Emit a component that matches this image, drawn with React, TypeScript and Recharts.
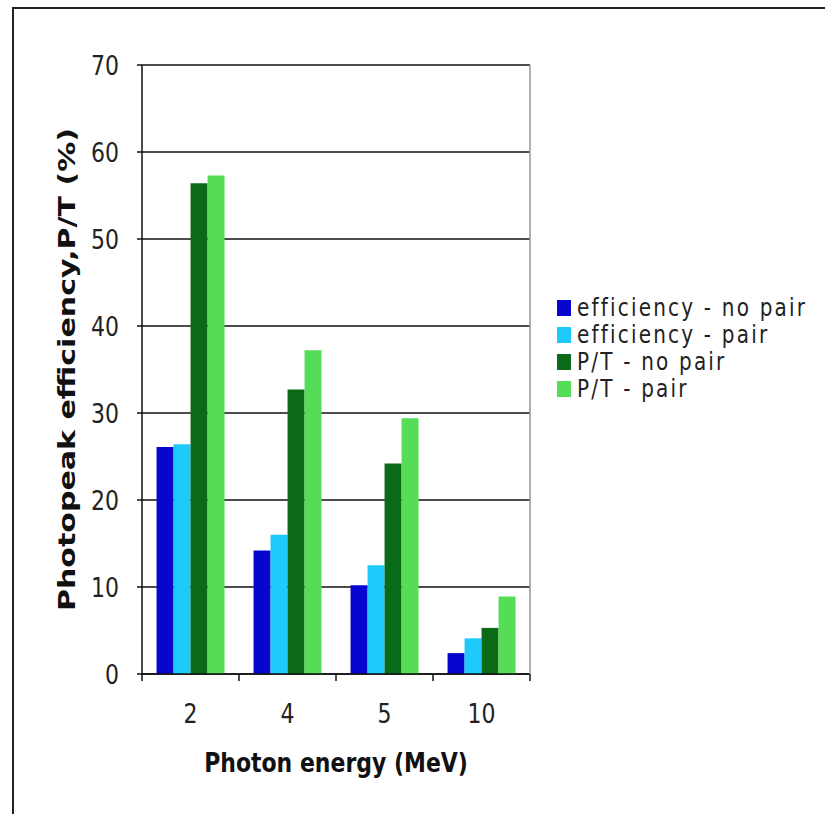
import React from 'react';
import { BarChart, Bar, XAxis, YAxis, CartesianGrid, Legend } from 'recharts';

// Photon energies (MeV) on the category axis
const energies = ['2', '4', '5', '10'];

// Values in %
const effNoPair = [26.1, 14.2, 10.2, 2.4];
const effPair = [26.4, 16.0, 12.5, 4.1];
const ptNoPair = [56.4, 32.7, 24.2, 5.3];
const ptPair = [57.3, 37.2, 29.4, 8.9];

const yTicks = [0, 10, 20, 30, 40, 50, 60, 70];

const series = [
  { key: 'effNoPair', name: 'efficiency - no pair', color: '#0606cf' },
  { key: 'effPair', name: 'efficiency - pair', color: '#1ec9fc' },
  { key: 'ptNoPair', name: 'P/T - no pair', color: '#0a6a17' },
  { key: 'ptPair', name: 'P/T - pair', color: '#55dd58' },
];

const data = energies.map((e, i) => ({
  energy: e,
  effNoPair: effNoPair[i],
  effPair: effPair[i],
  ptNoPair: ptNoPair[i],
  ptPair: ptPair[i],
}));

const FONT = '"DejaVu Sans", Verdana, sans-serif';
const STRETCH = 1.2;

const EmptyTick = () => <g />;

const YTick = ({ x, y, payload }: any) => (
  <g transform={`translate(${x - 16},${y}) scale(1,${STRETCH})`}>
    <text x={0} y={0} dy="0.36em" textAnchor="end" fontSize={22} fontFamily={FONT} fill="#222">
      {payload.value}
    </text>
  </g>
);

// category label plus the tick marks at the band edges (Excel style)
const XTick = ({ x, y, payload, index, visibleTicksCount }: any) => {
  const half = payload.offset || 0;
  const last = index === visibleTicksCount - 1;
  return (
    <g>
      <line x1={x - half} x2={x - half} y1={y} y2={y + 7} stroke="#111" strokeWidth={1.5} />
      {last && <line x1={x + half} x2={x + half} y1={y} y2={y + 7} stroke="#111" strokeWidth={1.5} />}
      <g transform={`translate(${x},${y + 49}) scale(1,${STRETCH})`}>
        <text x={0} y={0} textAnchor="middle" fontSize={22} fontFamily={FONT} fill="#222">
          {payload.value}
        </text>
      </g>
    </g>
  );
};

const YLabel = ({ viewBox }: any) => {
  const cy = viewBox.y + viewBox.height / 2;
  return (
    <text
      transform={`translate(75,${cy}) rotate(-90)`}
      textAnchor="middle"
      fontSize={23}
      fontWeight="bold"
      fontFamily={FONT}
      fill="#111"
      textLength={483}
      lengthAdjust="spacingAndGlyphs"
    >
      Photopeak efficiency,P/T (%)
    </text>
  );
};

const XLabel = ({ viewBox }: any) => {
  const cx = viewBox.x + viewBox.width / 2;
  return (
    <g transform={`translate(${cx},772) scale(1,${STRETCH})`}>
      <text x={0} y={0} textAnchor="middle" fontSize={22} fontWeight="bold" fontFamily={FONT} fill="#111">
        Photon energy (MeV)
      </text>
    </g>
  );
};

const LegendBox = () => (
  <div style={{ fontFamily: FONT, fontSize: 20, color: '#222', letterSpacing: 2.2 }}>
    {series.map((s) => (
      <div key={s.key} style={{ display: 'flex', alignItems: 'center', height: 27 }}>
        <span style={{ width: 14, height: 16, background: s.color, marginRight: 6 }} />
        <span style={{ display: 'inline-block', transform: `scaleY(${STRETCH})` }}>{s.name}</span>
      </div>
    ))}
  </div>
);

export default function App() {
  return (
    <div style={{ position: 'absolute', left: 0, top: 0, width: 825, height: 814, background: '#fff' }}>
      <div
        style={{
          position: 'absolute',
          left: 12,
          top: 7,
          width: 830,
          height: 830,
          borderTop: '2px solid #222',
          borderLeft: '2px solid #222',
        }}
      />
      <BarChart
        width={825}
        height={814}
        data={data}
        margin={{ top: 65, right: 294, bottom: 0, left: 0 }}
        barCategoryGap="15%"
        barGap={0}
      >
        <CartesianGrid vertical={false} stroke="#111" strokeWidth={1.5} />
        <XAxis
          dataKey="energy"
          height={140}
          axisLine={{ stroke: '#111', strokeWidth: 1.5 }}
          tickLine={false}
          tickSize={0}
          tickMargin={0}
          tick={<XTick />}
          label={{ content: XLabel }}
        />
        <YAxis
          domain={[0, 70]}
          ticks={yTicks}
          width={142}
          tickSize={5}
          axisLine={{ stroke: '#111', strokeWidth: 1.5 }}
          tickLine={{ stroke: '#111', strokeWidth: 1.5 }}
          tick={<YTick />}
          label={{ content: YLabel }}
        />
        <YAxis
          yAxisId="frame"
          orientation="right"
          domain={[0, 70]}
          width={1}
          tick={EmptyTick}
          tickLine={false}
          axisLine={{ stroke: '#999', strokeWidth: 1.5 }}
        />
        {series.map((s) => (
          <Bar key={s.key} dataKey={s.key} name={s.name} fill={s.color} isAnimationActive={false} />
        ))}
        <Legend
          layout="vertical"
          align="center"
          verticalAlign="middle"
          content={<LegendBox />}
          wrapperStyle={{ left: 557, top: 294, width: 268 }}
        />
      </BarChart>
    </div>
  );
}
